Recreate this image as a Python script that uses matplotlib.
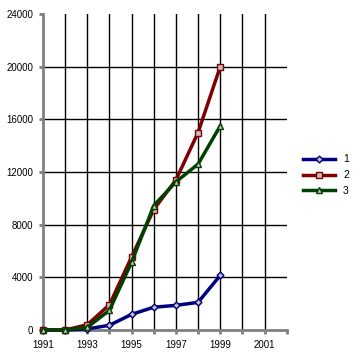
import matplotlib.pyplot as plt
import numpy as np

plt.rcParams['font.family'] = ['Liberation Sans', 'DejaVu Sans']

years = [1991, 1992, 1993, 1994, 1995, 1996, 1997, 1998, 1999]
series_1 = [0, 0, 80, 360, 1190, 1730, 1870, 2100, 4150]
series_2 = [0, 0, 400, 1920, 5550, 9150, 11400, 15000, 20000]
series_3 = [0, 0, 200, 1500, 5150, 9450, 11250, 12600, 15500]
names = ['1', '2', '3']
colors = ['#000080', '#800000', '#004000']
markers = ['D', 's', '^']
msizes = [3.5, 5, 4]

fig = plt.figure(figsize=(3.63, 3.6), dpi=100)
ax = fig.add_axes([43 / 363, 1 - 330 / 360, (286.7 - 43) / 363, (330 - 14) / 360])

for vals, name, c, m, ms in zip([series_1, series_2, series_3], names, colors, markers, msizes):
    ax.plot(years, vals, color=c, lw=2.5, marker=m, markersize=ms,
            markerfacecolor='#c0c0c0', markeredgecolor=c, markeredgewidth=1,
            label=name, clip_on=False, zorder=3)

ax.set_xlim(1991, 2002)
ax.set_ylim(0, 24000)
ax.set_xticks(range(1991, 2003))
ax.set_xticklabels([str(y) if (y - 1991) % 2 == 0 else '' for y in range(1991, 2003)])
ax.set_yticks(range(0, 24001, 4000))

# gridlines drawn by hand so the top/right edges stay open
for x in range(1992, 2002):
    ax.axvline(x, color='black', lw=1, zorder=1)
for y in range(4000, 24000, 4000):
    ax.axhline(y, color='black', lw=1, zorder=1)

for s in ['top', 'right']:
    ax.spines[s].set_visible(False)
for s in ['left', 'bottom']:
    ax.spines[s].set_color('#808080')
    ax.spines[s].set_linewidth(2)
ax.tick_params(direction='out', length=3, width=2, color='#808080',
               labelsize=7, pad=4)

ax.legend(loc='center left', bbox_to_anchor=(1.03, 0.49), frameon=False,
          fontsize=7.5, handlelength=3.0, labelspacing=0.55, handletextpad=0.8)

fig.savefig('out.png', dpi=100)
